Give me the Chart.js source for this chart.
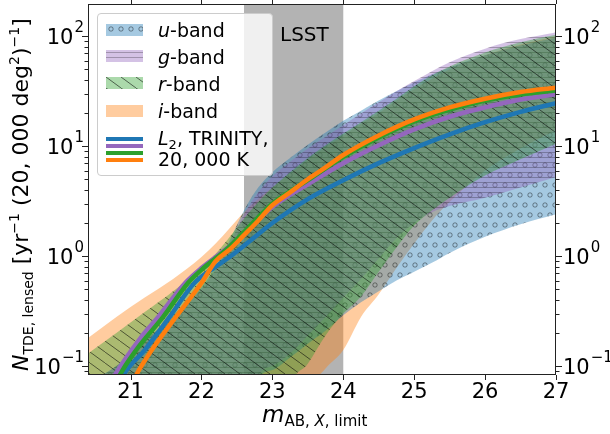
<!DOCTYPE html>
<html>
<head>
<meta charset="utf-8">
<script src="https://cdn.jsdelivr.net/npm/chart.js@4.4.1/dist/chart.umd.min.js"></script>
<style>
  body { margin: 0; background: #fff; font-family: 'DejaVu Sans', sans-serif; }
  #wrap { position: relative; width: 610px; height: 434px; overflow: hidden; }
  #chart { position: absolute; left: 0; top: 0; }
  .ov { position: absolute; color: #000; white-space: nowrap; }
  .sub { font-size: 14px; position: relative; top: 5px; }
  .sup { font-size: 14px; position: relative; top: -9px; }
  #legend { position: absolute; left: 97px; top: 13px; width: 174px; height: 161px;
            background: rgba(255,255,255,0.8); border: 1px solid #ccc; border-radius: 4px; }
  #legend canvas { position: absolute; left: 8px; }
  #legend .txt { position: absolute; left: 60px; font-size: 19px; line-height: 20px; white-space: nowrap; }
  #legend .ln { position: absolute; left: 8px; width: 37px; height: 4px; }
</style>
</head>
<body>
<div id="wrap">
  <canvas id="chart" width="610" height="434"></canvas>

  <div class="ov" style="left:280px; top:22px; font-size:20px; line-height:24px;">LSST</div>

  <div id="legend">
    <canvas id="pu" width="37" height="12" style="top:10px"></canvas>
    <canvas id="pg" width="37" height="12" style="top:36px"></canvas>
    <canvas id="pr" width="37" height="12" style="top:63px"></canvas>
    <canvas id="pi" width="37" height="12" style="top:91px"></canvas>
    <div class="txt" style="top:6px"><i>u</i>-band</div>
    <div class="txt" style="top:33px"><i>g</i>-band</div>
    <div class="txt" style="top:60px"><i>r</i>-band</div>
    <div class="txt" style="top:87px"><i>i</i>-band</div>
    <div class="ln" style="top:123px; background:#1f77b4"></div>
    <div class="ln" style="top:130px; background:#9467bd"></div>
    <div class="ln" style="top:137px; background:#2ca02c"></div>
    <div class="ln" style="top:144px; background:#ff7f0e"></div>
    <div class="txt" style="top:114px"><i>L</i><span style="font-size:13px; position:relative; top:4px">2</span>, TRINITY,</div>
    <div class="txt" style="top:135px">20, 000 K</div>
  </div>

  <div class="ov" style="left:6px; top:371px; transform-origin:0 0; transform:rotate(-90deg); font-size:22px; line-height:30px;">
    <i>N</i><span class="sub">TDE, lensed</span> [yr<span class="sup">−1</span> (20, 000 deg<span class="sup">2</span>)<span class="sup">−1</span>]
  </div>

  <div class="ov" style="left:262px; top:400px; font-size:23px; line-height:28px;">
    <i>m</i><span style="font-size:15px; position:relative; top:4px">AB, <i>X</i>, limit</span>
  </div>
</div>

<script>
// ---- data ----
const bandX = [20.4, 20.8, 21.2, 21.6, 22.0, 22.2, 22.4, 22.6, 22.8, 23.0, 23.25, 23.5,
               23.75, 24.0, 24.25, 24.5, 24.75, 25.0, 25.25, 25.5, 26.0, 26.5, 27.0];

const uUpper = [0.07, 0.1, 0.17, 0.29, 0.52, 0.8, 1.4, 2.6, 4.2, 5.8, 7.8, 10.3,
                13.3, 17, 21, 26, 31.5, 38, 45, 52, 67, 82, 97];
const uLower = [0.01, 0.01, 0.01, 0.01, 0.01, 0.01, 0.01, 0.01, 0.075, 0.092, 0.12, 0.16,
                0.21, 0.29, 0.38, 0.48, 0.6, 0.72, 0.87, 1.07, 1.5, 1.95, 2.4];

const gUpper = [0.07, 0.1, 0.17, 0.28, 0.5, 0.75, 1.3, 2.4, 3.8, 5.3, 7.2, 9.5,
                12.2, 15.5, 19.8, 25, 31.5, 39, 48, 58, 77, 94, 108];
const gLower = [0.01, 0.01, 0.01, 0.01, 0.01, 0.01, 0.01, 0.01, 0.078, 0.1, 0.13, 0.19,
                0.28, 0.42, 0.62, 0.95, 1.45, 2.0, 2.5, 2.85, 3.4, 4.2, 5.2];

const rUpper = [0.13, 0.2, 0.31, 0.48, 0.78, 1.05, 1.5, 2.2, 3.1, 4.2, 5.8, 7.8,
                10.2, 13, 16.5, 21, 27, 35, 44, 53, 71, 88, 103];
const rLower = [0.01, 0.01, 0.01, 0.01, 0.01, 0.01, 0.01, 0.01, 0.01, 0.01, 0.065, 0.105,
                0.19, 0.3, 0.43, 0.72, 1.2, 1.9, 2.6, 3.4, 5.4, 7.6, 10.5];

const iUpper = [0.18, 0.28, 0.42, 0.62, 0.98, 1.3, 1.8, 2.5, 3.3, 4.2, 5.6, 7.5,
                9.8, 12.5, 16, 20, 26, 33, 41, 50, 67, 84, 100];
const iLower = [0.01, 0.01, 0.01, 0.01, 0.01, 0.01, 0.01, 0.01, 0.01, 0.01, 0.01, 0.055,
                0.095, 0.14, 0.28, 0.45, 0.78, 1.3, 2.1, 3.1, 6.0, 9.5, 14];

// L2, TRINITY, 20,000 K curves
const uLineX = [20.85, 20.9, 21.2, 21.55, 21.9, 22.2, 22.45, 22.7, 23.0, 23.5, 24.0, 24.5, 25.0, 25.5, 26.0, 26.5, 27.0];
const uLineY = [0.07, 0.083, 0.14, 0.28, 0.57, 0.8, 1.04, 1.4, 2.0, 3.3, 4.9, 7.0, 9.6, 12.8, 16.5, 20.5, 24.6];
const gLineX = [20.72, 20.78, 21.14, 21.39, 21.77, 22.0, 22.3, 22.6, 23.0, 23.5, 24.0, 24.5, 25.0, 25.5, 26.0, 26.5, 27.0];
const gLineY = [0.07, 0.083, 0.18, 0.28, 0.57, 0.78, 1.1, 1.6, 2.8, 4.5, 7.0, 10.2, 14.2, 18.5, 22.5, 26.5, 29.6];
const rLineX = [20.8, 20.85, 21.08, 21.46, 21.81, 22.0, 22.34, 22.6, 22.8, 23.0, 23.5, 24.0, 24.5, 25.0, 25.5, 26.0, 26.5, 27.0];
const rLineY = [0.07, 0.083, 0.14, 0.28, 0.57, 0.75, 1.13, 1.65, 2.25, 3.0, 4.9, 8.0, 12, 16.8, 21.5, 26, 29.5, 32];
const iLineX = [21.0, 21.08, 21.3, 21.64, 22.0, 22.2, 22.4, 22.6, 22.8, 23.0, 23.25, 23.5, 23.75, 24.0, 24.5, 25.0, 25.5, 26.0, 26.5, 27.0];
const iLineY = [0.065, 0.083, 0.14, 0.28, 0.57, 0.9, 1.15, 1.55, 2.1, 2.9, 3.8, 5.0, 6.4, 8.3, 12.5, 17.5, 22.5, 27, 31, 34];

const lsstRange = [22.6, 24.0];

// axis ticks
const xTicks = [21, 22, 23, 24, 25, 26, 27];
const yMajorTicks = [0.1, 1, 10, 100];
const yMajorExp = ['−1', '0', '1', '2'];
const yMinorTicks = [0.09, 0.2, 0.3, 0.4, 0.5, 0.6, 0.7, 0.8, 0.9,
                     2, 3, 4, 5, 6, 7, 8, 9, 20, 30, 40, 50, 60, 70, 80, 90];

// ---- hatch patterns ----
function hatchPattern(kind, rgba) {
    const c = document.createElement('canvas');
    let w = 10, h = 10;
    if (kind === 'o') { w = 10; h = 20; }
    if (kind === '-') { w = 10; h = 5; }
    if (kind === '\\') { w = 15; h = 11; }
    c.width = w; c.height = h;
    const g = c.getContext('2d');
    g.fillStyle = rgba;
    g.fillRect(0, 0, w, h);
    g.strokeStyle = 'rgba(0,0,0,0.4)';
    g.lineWidth = 1;
    if (kind === 'o') {
        [[5, 5], [0, 15], [10, 15]].forEach(([cx, cy]) => {
            g.beginPath(); g.arc(cx, cy, 2.2, 0, 2 * Math.PI); g.stroke();
        });
    } else if (kind === '-') {
        g.strokeStyle = 'rgba(0,0,0,0.25)';
        g.beginPath(); g.moveTo(0, 2.5); g.lineTo(w, 2.5); g.stroke();
    } else if (kind === '\\') {
        g.strokeStyle = 'rgba(0,0,0,0.55)';
        g.beginPath(); g.moveTo(-w, -h); g.lineTo(2 * w, 2 * h); g.stroke();
    }
    return g.createPattern(c, 'repeat');
}

const uFill = hatchPattern('o', 'rgba(31,119,180,0.4)');
const gFill = hatchPattern('-', 'rgba(148,103,189,0.4)');
const rFill = hatchPattern('\\', 'rgba(44,160,44,0.4)');
const iFill = 'rgba(255,127,14,0.4)';

// legend patches
[['pu', uFill], ['pg', gFill], ['pr', rFill], ['pi', iFill]].forEach(([id, f]) => {
    const g = document.getElementById(id).getContext('2d');
    g.fillStyle = f;
    g.fillRect(0, 0, 37, 12);
});

const pts = (xs, ys) => xs.map((x, k) => ({ x: x, y: ys[k] }));

function band(lower, upper, fill, order) {
    return [
        { data: pts(bandX, lower), borderWidth: 0, pointRadius: 0, fill: false,
          cubicInterpolationMode: 'monotone', order: order },
        { data: pts(bandX, upper), borderWidth: 0, pointRadius: 0, fill: '-1',
          backgroundColor: fill, cubicInterpolationMode: 'monotone', order: order }
    ];
}

function curve(xs, ys, color, order) {
    return { data: pts(xs, ys), borderColor: color, borderWidth: 4.5, pointRadius: 0,
             fill: false, cubicInterpolationMode: 'monotone', order: order };
}

// gray LSST span, axes frame, ticks and tick labels
const decor = {
    id: 'decor',
    beforeDatasetsDraw(chart) {
        const { ctx, chartArea: a, scales: { x } } = chart;
        const x0 = x.getPixelForValue(lsstRange[0]);
        const x1 = x.getPixelForValue(lsstRange[1]);
        ctx.save();
        ctx.fillStyle = '#b3b3b3';
        ctx.fillRect(x0, a.top, x1 - x0, a.bottom - a.top);
        ctx.restore();
    },
    afterDraw(chart) {
        const { ctx, chartArea: a, scales: { x, y } } = chart;
        ctx.save();
        ctx.strokeStyle = '#222';
        ctx.lineWidth = 1;
        ctx.strokeRect(a.left + 0.5, a.top + 0.5, a.right - a.left - 1, a.bottom - a.top - 1);

        ctx.beginPath();
        xTicks.forEach(v => {
            const px = Math.round(x.getPixelForValue(v)) + 0.5;
            ctx.moveTo(px, a.bottom); ctx.lineTo(px, a.bottom + 5);
            ctx.moveTo(px, a.top); ctx.lineTo(px, a.top - 5);
        });
        yMajorTicks.forEach(v => {
            const py = Math.round(y.getPixelForValue(v)) + 0.5;
            ctx.moveTo(a.left - 6, py); ctx.lineTo(a.left, py);
            ctx.moveTo(a.right, py); ctx.lineTo(a.right + 6, py);
        });
        yMinorTicks.forEach(v => {
            const py = Math.round(y.getPixelForValue(v)) + 0.5;
            ctx.moveTo(a.left - 3.5, py); ctx.lineTo(a.left, py);
            ctx.moveTo(a.right, py); ctx.lineTo(a.right + 3.5, py);
        });
        ctx.stroke();

        ctx.fillStyle = '#000';
        ctx.textBaseline = 'alphabetic';
        ctx.font = '21px "DejaVu Sans"';
        ctx.textAlign = 'center';
        xTicks.forEach(v => ctx.fillText(String(v), x.getPixelForValue(v), 398));

        ctx.textAlign = 'left';
        yMajorTicks.forEach((v, k) => {
            const py = y.getPixelForValue(v);
            ctx.font = '21px "DejaVu Sans"';
            const wb = ctx.measureText('10').width;
            ctx.font = '15px "DejaVu Sans"';
            const we = ctx.measureText(yMajorExp[k]).width;
            [a.left - 4 - wb - we - 1, a.right + 7].forEach(x0 => {
                ctx.font = '21px "DejaVu Sans"';
                ctx.fillText('10', x0, py + 7.6);
                ctx.font = '15px "DejaVu Sans"';
                ctx.fillText(yMajorExp[k], x0 + wb + 1, py - 4);
            });
        });
        ctx.restore();
    }
};

// draw order (bottom to top): i band, u band, g band, r band, then the four curves
const datasets = [
    curve(iLineX, iLineY, '#ff7f0e', 0),
    curve(rLineX, rLineY, '#2ca02c', 1),
    curve(gLineX, gLineY, '#9467bd', 2),
    curve(uLineX, uLineY, '#1f77b4', 3),
    ...band(rLower, rUpper, rFill, 4),
    ...band(gLower, gUpper, gFill, 5),
    ...band(uLower, uUpper, uFill, 6),
    ...band(iLower, iUpper, iFill, 7)
];

new Chart(document.getElementById('chart'), {
    type: 'line',
    data: { datasets: datasets },
    options: {
        responsive: false,
        animation: false,
        devicePixelRatio: 1,
        layout: { padding: { top: 4, left: 0, right: 0, bottom: 0 } },
        plugins: { legend: { display: false }, tooltip: { enabled: false } },
        scales: {
            x: {
                type: 'linear', position: 'bottom', min: 20.4, max: 27,
                grid: { display: false }, border: { display: false },
                ticks: { display: false },
                afterFit: s => { s.height = 59; }
            },
            y: {
                type: 'logarithmic', position: 'left', min: 0.083, max: 196,
                grid: { display: false }, border: { display: false },
                ticks: { display: false },
                afterFit: s => { s.width = 88; }
            },
            y2: {
                type: 'logarithmic', position: 'right', min: 0.083, max: 196,
                grid: { display: false }, border: { display: false },
                ticks: { display: false },
                afterFit: s => { s.width = 54; }
            }
        }
    },
    plugins: [decor]
});
</script>
</body>
</html>
